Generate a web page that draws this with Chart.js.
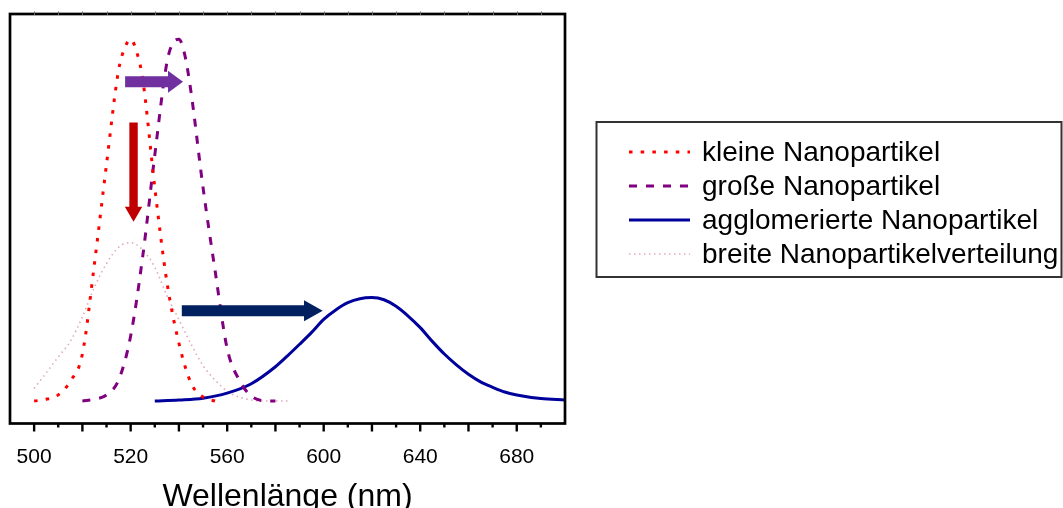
<!DOCTYPE html>
<html><head><meta charset="utf-8">
<script src="https://cdn.jsdelivr.net/npm/chart.js@4.4.1/dist/chart.umd.min.js"></script>
<style>html,body{margin:0;padding:0;background:#fff;overflow:hidden}#wrap{width:1063px;height:508px}</style>
</head><body><div id="wrap"><canvas id="c" width="1063" height="508"></canvas></div>
<script>
// ---- data ----
const seriesNames = ['kleine Nanopartikel', 'große Nanopartikel', 'agglomerierte Nanopartikel', 'breite Nanopartikelverteilung'];

const kleineNm  = [480, 485, 490, 495, 500, 505, 510, 515, 517.5, 520, 522.5, 525, 530, 535, 540, 545, 550, 555];
const kleineVal = [0, 0.005, 0.017, 0.055, 0.13, 0.38, 0.655, 0.915, 0.975, 1.0, 0.965, 0.89, 0.59, 0.33, 0.16, 0.05, 0.011, 0];

const grosseNm  = [500, 505, 510, 515, 520, 525, 530, 535, 537.5, 540, 542.5, 545, 550, 555, 560, 565, 570, 575, 580];
const grosseVal = [0, 0.005, 0.017, 0.058, 0.18, 0.40, 0.68, 0.935, 0.99, 1.0, 0.955, 0.855, 0.59, 0.36, 0.145, 0.058, 0.014, 0.001, 0];

const agglomNm  = [530, 540, 550, 560, 570, 580, 585, 590, 595, 600, 605, 610, 615, 620, 625, 630, 635, 640, 645, 650, 655, 660, 665, 670, 675, 680, 690, 700];
const agglomVal = [0, 0.003, 0.008, 0.022, 0.048, 0.095, 0.125, 0.157, 0.19, 0.226, 0.252, 0.272, 0.283, 0.286, 0.28, 0.262, 0.235, 0.203, 0.165, 0.13, 0.1, 0.074, 0.053, 0.038, 0.025, 0.017, 0.007, 0.003];

const breitNm   = [480, 485, 490, 495, 500, 505, 510, 515, 520, 525, 530, 535, 540, 545, 550, 555, 560, 565, 570, 575, 580, 585];
const breitVal  = [0.035, 0.078, 0.122, 0.165, 0.233, 0.315, 0.38, 0.425, 0.438, 0.418, 0.37, 0.292, 0.225, 0.158, 0.098, 0.058, 0.027, 0.011, 0.003, 0, 0, 0];

const tickValues = [480, 520, 560, 600, 640, 680];
const tickLabels = ['500', '520', '560', '600', '640', '680'];
const axisTitle = 'Wellenlänge (nm)';

// ---- annotations (arrows) in data units ----
const arrows = [
  {dir: 'right', from: 517.7, to: 541.7, at: 0.883, shaft: 11, headW: 22, headL: 15, color: '#7030a0'},
  {dir: 'down',  from: 0.770, to: 0.496, at: 521.2, shaft: 8.4, headW: 17.4, headL: 15, color: '#c00000'},
  {dir: 'right', from: 541.2, to: 599.6, at: 0.250, shaft: 11, headW: 21, headL: 18.7, color: '#002060'}
];

const FONT = '"Liberation Sans", Arial, sans-serif';
const toXY = (xs, ys) => xs.map((v, i) => ({x: v, y: ys[i]}));

const datasets = [
  {label: seriesNames[0], data: toXY(kleineNm, kleineVal), borderColor: '#ff0000', borderWidth: 3, borderDash: [3.5, 8.2]},
  {label: seriesNames[1], data: toXY(grosseNm, grosseVal), borderColor: '#800080', borderWidth: 3, borderDash: [8, 9]},
  {label: seriesNames[2], data: toXY(agglomNm, agglomVal), borderColor: '#00009c', borderWidth: 3, borderDash: []},
  {label: seriesNames[3], data: toXY(breitNm, breitVal), borderColor: '#dfa9b8', borderWidth: 1.6, borderDash: [1.5, 3.5]}
].map(d => Object.assign(d, {pointRadius: 0, fill: false, cubicInterpolationMode: 'monotone'}));

const decoPlugin = {
  id: 'deco',
  afterDatasetsDraw(chart) {
    const {ctx, chartArea: a, scales: {x, y}} = chart;
    ctx.save();
    arrows.forEach(ar => {
      ctx.fillStyle = ar.color;
      ctx.beginPath();
      if (ar.dir === 'right') {
        const x0 = x.getPixelForValue(ar.from), x1 = x.getPixelForValue(ar.to), yc = y.getPixelForValue(ar.at);
        const hb = x1 - ar.headL, s = ar.shaft / 2, h = ar.headW / 2;
        ctx.moveTo(x0, yc - s); ctx.lineTo(hb, yc - s); ctx.lineTo(hb, yc - h); ctx.lineTo(x1, yc);
        ctx.lineTo(hb, yc + h); ctx.lineTo(hb, yc + s); ctx.lineTo(x0, yc + s);
      } else {
        const y0 = y.getPixelForValue(ar.from), y1 = y.getPixelForValue(ar.to), xc = x.getPixelForValue(ar.at);
        const hb = y1 - ar.headL, s = ar.shaft / 2, h = ar.headW / 2;
        ctx.moveTo(xc - s, y0); ctx.lineTo(xc - s, hb); ctx.lineTo(xc - h, hb); ctx.lineTo(xc, y1);
        ctx.lineTo(xc + h, hb); ctx.lineTo(xc + s, hb); ctx.lineTo(xc + s, y0);
      }
      ctx.closePath(); ctx.fill();
    });
    ctx.strokeStyle = '#000'; ctx.lineWidth = 2.7; ctx.setLineDash([]);
    ctx.strokeRect(a.left, a.top, a.right - a.left, a.bottom - a.top);
    ctx.lineWidth = 2.4;
    for (let v = x.min + 10; v < x.max; v += 10) {
      const px = x.getPixelForValue(v);
      const major = (v % 20) === 0;
      ctx.beginPath(); ctx.moveTo(px, a.bottom); ctx.lineTo(px, a.bottom + (major ? 8 : 4)); ctx.stroke();
    }
    ctx.strokeStyle = '#666'; ctx.lineWidth = 1;
    for (let v = x.min + 10; v < x.max; v += 10) {
      const px = Math.round(x.getPixelForValue(v)) + 0.5;
      ctx.beginPath(); ctx.moveTo(px, a.top - 2.5); ctx.lineTo(px, a.top + 1); ctx.stroke();
    }
    ctx.restore();

    ctx.save();
    const L = {left: 596, top: 122, right: 1062, bottom: 277, lineX0: 629, lineX1: 690, textX: 702, rowY0: 152, rowGap: 34};
    ctx.strokeStyle = '#333'; ctx.lineWidth = 2;
    ctx.strokeRect(L.left + 0.5, L.top, L.right - L.left - 1, L.bottom - L.top);
    ctx.font = '28px ' + FONT;
    ctx.textBaseline = 'middle'; ctx.textAlign = 'left'; ctx.fillStyle = '#000';
    chart.data.datasets.forEach((d, i) => {
      const yy = L.rowY0 + i * L.rowGap;
      ctx.save();
      ctx.strokeStyle = d.borderColor; ctx.lineWidth = d.borderWidth; ctx.setLineDash(d.borderDash || []);
      ctx.beginPath(); ctx.moveTo(L.lineX0, yy); ctx.lineTo(L.lineX1, yy); ctx.stroke();
      ctx.restore();
      ctx.fillText(d.label, L.textX, yy + 1);
    });
    ctx.restore();
  }
};

new Chart(document.getElementById('c'), {
  type: 'line',
  data: {datasets},
  options: {
    responsive: false, animation: false, devicePixelRatio: 1,
    layout: {padding: {left: 10, right: 498, top: 14, bottom: 0}},
    plugins: {legend: {display: false}, tooltip: {enabled: false}},
    scales: {
      x: {
        type: 'linear', min: 470, max: 700,
        afterFit: s => { s.height = 84.5; s.paddingLeft = 0; s.paddingRight = 0; },
        border: {display: false},
        grid: {display: true, drawOnChartArea: false, drawTicks: false, tickLength: 0},
        ticks: {
          stepSize: 10, autoSkip: false, maxRotation: 0, minRotation: 0, padding: 21,
          color: '#000', font: {family: FONT, size: 21},
          callback: v => { const i = tickValues.indexOf(v); return i >= 0 ? tickLabels[i] : ''; }
        },
        title: {display: true, text: axisTitle, color: '#000', font: {family: FONT, size: 32, lineHeight: 0.67}, padding: 0}
      },
      y: {display: false, min: -0.062, max: 1.07}
    }
  },
  plugins: [decoPlugin]
});
</script></body></html>
